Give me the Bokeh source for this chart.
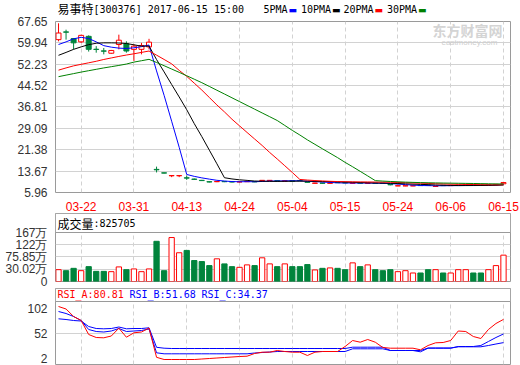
from bokeh.plotting import figure
from bokeh.layouts import column
from bokeh.models import (Range1d, FixedTicker, Label, BoxAnnotation,
                          PrintfTickFormatter, ColumnDataSource)
from bokeh.embed import file_html
from bokeh.resources import INLINE

# ---------------- data ----------------
stock_name = "易事特"
stock_code = "300376"
time_stamp = "2017-06-15 15:00"

dates = ["03-17", "03-20", "03-21", "03-22", "03-23", "03-24", "03-27", "03-28", "03-29", "03-30",
         "03-31", "04-05", "04-06", "04-07", "04-10", "04-11", "04-12", "04-13", "04-14", "04-17",
         "04-18", "04-19", "04-20", "04-21", "04-24", "04-25", "04-26", "04-27", "04-28", "05-02",
         "05-03", "05-04", "05-05", "05-08", "05-09", "05-10", "05-11", "05-12", "05-15", "05-16",
         "05-17", "05-18", "05-19", "05-22", "05-23", "05-24", "05-25", "05-26", "05-31", "06-01",
         "06-02", "06-05", "06-06", "06-07", "06-08", "06-09", "06-12", "06-13", "06-14", "06-15"]

opens = [61.10, 63.90, 61.50, 60.30, 62.30, 57.65, 57.05, 56.20, 59.35, 59.60,
         57.60, 57.60, 58.50, 14.30, 13.05, 12.00, 12.00, 11.25, 10.80, 10.35,
         9.85, 9.85, 9.95, 9.85, 9.75, 9.85, 9.90, 10.20, 10.20, 10.20,
         10.05, 10.15, 10.30, 9.75, 9.28, 9.38, 9.28, 9.60, 9.50, 9.30,
         9.38, 9.28, 9.35, 9.30, 8.85, 8.33, 8.33, 8.33, 8.55, 8.55,
         8.12, 8.55, 8.45, 8.50, 8.60, 8.65, 8.55, 8.60, 8.80, 9.10]
highs = [67.00, 64.70, 61.60, 62.90, 62.65, 58.75, 58.10, 57.40, 62.90, 60.50,
         59.35, 59.95, 61.40, 15.30, 13.10, 12.10, 12.10, 12.05, 11.00, 10.50,
         9.95, 10.00, 10.05, 9.90, 9.90, 10.00, 9.95, 10.45, 10.45, 10.25,
         10.25, 10.20, 10.50, 9.80, 9.45, 9.45, 9.40, 9.65, 9.55, 9.45,
         9.45, 9.40, 9.40, 9.35, 8.90, 8.45, 8.45, 8.45, 8.60, 8.60,
         8.25, 8.60, 8.60, 8.65, 8.75, 8.70, 8.60, 8.75, 8.95, 9.70]
lows = [60.50, 61.10, 57.60, 59.90, 56.80, 56.40, 55.80, 56.00, 57.60, 56.40,
        53.40, 55.80, 57.60, 13.20, 12.85, 11.50, 11.50, 10.50, 10.50, 10.10,
        9.60, 9.70, 9.70, 9.60, 9.65, 9.75, 9.70, 10.15, 10.15, 10.00,
        10.00, 9.95, 10.10, 9.60, 9.20, 9.25, 9.20, 9.45, 9.35, 9.25,
        9.25, 9.20, 9.20, 9.15, 8.55, 8.25, 8.25, 8.25, 8.40, 8.40,
        8.05, 8.40, 8.40, 8.45, 8.55, 8.50, 8.40, 8.55, 8.75, 9.05]
closes = [63.50, 63.80, 59.95, 62.65, 57.60, 57.55, 56.95, 57.20, 60.90, 57.00,
          58.75, 59.00, 60.20, 14.15, 12.95, 12.06, 12.06, 11.15, 10.70, 10.25,
          9.75, 9.95, 9.85, 9.75, 9.85, 9.95, 9.80, 10.35, 10.35, 10.10,
          10.15, 10.05, 10.20, 9.65, 9.38, 9.30, 9.35, 9.50, 9.42, 9.38,
          9.30, 9.34, 9.28, 9.22, 8.73, 8.40, 8.40, 8.40, 8.45, 8.48,
          8.20, 8.45, 8.52, 8.58, 8.68, 8.58, 8.48, 8.68, 8.90, 9.55]

ma5 = [59.35, 60.30, 61.40, 61.95, 61.50, 60.30, 58.94, 58.39, 58.04, 57.92,
       58.16, 58.57, 59.17, 49.82, 41.01, 31.67, 22.28, 12.47, 11.78, 11.24,
       10.78, 10.36, 10.10, 9.91, 9.83, 9.87, 9.84, 9.94, 10.06, 10.11,
       10.15, 10.20, 10.17, 10.03, 9.89, 9.72, 9.58, 9.44, 9.39, 9.39,
       9.39, 9.39, 9.34, 9.30, 9.17, 8.99, 8.81, 8.63, 8.48, 8.43,
       8.39, 8.40, 8.42, 8.45, 8.49, 8.56, 8.57, 8.60, 8.66, 8.84]
ma10 = [55.45, 56.50, 57.60, 58.50, 59.30, 59.80, 59.95, 59.95, 59.90, 59.71,
        59.24, 58.76, 58.78, 53.93, 49.47, 44.92, 40.43, 35.82, 30.80, 26.13,
        21.23, 16.32, 11.29, 10.85, 10.54, 10.33, 10.10, 10.02, 9.99, 9.97,
        10.01, 10.02, 10.06, 10.05, 10.00, 9.93, 9.89, 9.80, 9.71, 9.64,
        9.55, 9.48, 9.39, 9.35, 9.28, 9.19, 9.10, 8.99, 8.89, 8.80,
        8.69, 8.60, 8.53, 8.46, 8.46, 8.47, 8.48, 8.51, 8.56, 8.66]
ma20 = [50.10, 50.90, 51.65, 52.20, 52.75, 53.30, 53.95, 54.50, 55.05, 55.55,
        56.00, 56.50, 57.00, 55.51, 53.96, 52.37, 50.02, 47.86, 45.40, 42.92,
        40.23, 37.54, 35.04, 32.39, 30.00, 27.62, 25.27, 22.92, 20.40, 18.05,
        15.62, 13.17, 10.67, 10.45, 10.27, 10.13, 10.00, 9.91, 9.85, 9.81,
        9.79, 9.76, 9.73, 9.70, 9.65, 9.57, 9.50, 9.40, 9.31, 9.23,
        9.13, 9.05, 8.97, 8.91, 8.88, 8.84, 8.80, 8.76, 8.73, 8.74]
ma30 = [47.75, 48.30, 48.85, 49.40, 49.90, 50.40, 50.90, 51.35, 51.80, 52.30,
        53.00, 53.50, 54.00, 52.87, 51.70, 50.50, 49.31, 48.08, 46.83, 45.58,
        44.22, 42.85, 41.49, 40.12, 38.76, 37.39, 36.03, 34.66, 33.30, 31.93,
        30.15, 28.36, 26.70, 24.94, 23.33, 21.72, 20.13, 18.54, 16.83, 15.24,
        13.59, 11.94, 10.24, 10.08, 9.94, 9.82, 9.70, 9.61, 9.53, 9.47,
        9.42, 9.37, 9.33, 9.29, 9.25, 9.21, 9.16, 9.11, 9.06, 9.04]

# volume in 万 (10k shares)
volume_wan = [28.5, 24.7, 33.4, 24.7, 39.8, 22.1, 22.1, 21.0, 38.7, 28.5,
              31.2, 21.0, 31.2, 134.2, 24.7, 148.2, 91.5, 100.2, 62.5, 58.7,
              43.6, 68.9, 50.0, 39.8, 37.2, 46.3, 43.6, 72.7, 50.0, 39.8,
              50.0, 39.8, 39.8, 47.4, 27.4, 33.4, 35.0, 33.4, 28.5, 53.8,
              39.8, 46.3, 28.5, 24.7, 28.5, 21.0, 24.7, 16.1, 16.1, 28.5,
              28.5, 16.1, 16.1, 28.5, 28.5, 16.1, 16.1, 28.5, 43.6, 82.5705]

rsi_a = [106.6, 101.6, 86.6, 78.6, 50.6, 44.6, 44.0, 47.6, 63.2, 45.2,
         54.0, 55.6, 63.6, 5.0, 0.6, 0.6, 0.6, 0.6, 0.6, 1.6,
         2.6, 3.6, 4.6, 5.6, 6.6, 7.2, 12.6, 15.2, 15.2, 18.6,
         16.6, 15.2, 15.2, 8.6, 15.2, 16.6, 16.6, 16.6, 26.6, 38.6,
         35.2, 40.6, 35.2, 24.6, 23.2, 23.2, 23.2, 23.2, 20.0, 28.6,
         34.0, 34.6, 38.6, 57.6, 56.6, 46.6, 42.6, 60.6, 72.6, 80.81]
rsi_b = [96.6, 92.6, 86.6, 78.6, 60.6, 56.6, 55.6, 57.6, 62.6, 56.6,
         57.6, 58.6, 61.6, 14.0, 12.0, 12.0, 12.0, 12.0, 12.0, 12.0,
         12.0, 12.0, 12.0, 12.0, 12.0, 12.0, 13.6, 14.6, 15.6, 16.6,
         16.6, 16.6, 16.6, 16.6, 16.6, 16.6, 16.6, 16.6, 16.6, 22.0,
         22.0, 22.0, 22.0, 22.0, 18.6, 18.6, 18.6, 18.6, 16.0, 23.2,
         23.2, 23.2, 23.2, 26.6, 26.6, 26.6, 28.6, 36.6, 44.6, 51.68]
rsi_c = [82.0, 80.6, 78.6, 77.6, 66.6, 62.6, 62.0, 62.6, 65.6, 62.0,
         62.6, 62.6, 64.0, 25.0, 23.2, 22.6, 22.6, 22.6, 22.6, 22.6,
         22.6, 22.6, 22.6, 22.6, 22.6, 22.6, 22.6, 22.6, 22.6, 22.6,
         22.6, 22.6, 22.6, 22.6, 22.6, 22.6, 22.6, 22.6, 22.6, 25.2,
         25.2, 25.2, 25.2, 25.2, 18.6, 18.6, 18.6, 18.6, 18.6, 23.6,
         23.6, 23.6, 23.6, 26.0, 26.0, 26.0, 26.0, 28.6, 31.6, 34.37]

price_tick_labels = ["5.96", "13.67", "21.38", "29.09", "36.81", "44.52", "52.23", "59.94", "67.65"]
date_tick_labels = ["03-22", "03-31", "04-13", "04-24", "05-04", "05-15", "05-24", "06-06", "06-15"]
vol_tick_labels = ["0", "30.02万", "75.85万", "122万", "167万"]
rsi_tick_labels = ["2", "52", "102"]
ma_names = ["5PMA", "10PMA", "20PMA", "30PMA"]
rsi_names = ["RSI_A", "RSI_B", "RSI_C"]

# ---------------- styles ----------------
RED = "#FF0000"
GREEN = "#00843C"
BLUE = "#0000FF"
MA_COLORS = [BLUE, "#000000", RED, "#008000"]
RSI_COLORS = [RED, BLUE, BLUE]
FRAME_C = "#9a9a9a"
GRID_C = "#d2d2d2"
AX_FONT = "Liberation Sans"
MONO = "DejaVu Sans Mono"
CJK = "Noto Sans CJK SC"

n = len(dates)
xs = list(range(n))
X0, X1 = -0.4, (n - 1) + 0.93
P_LO, P_HI = float(price_tick_labels[0]), float(price_tick_labels[-1])
date_ticks = [dates.index(d) for d in date_tick_labels]

up = [c >= o for o, c in zip(opens, closes)]
src = ColumnDataSource(dict(
    x=xs, high=highs, low=lows,
    top=[max(o, c) for o, c in zip(opens, closes)],
    bot=[min(o, c) for o, c in zip(opens, closes)],
    col=[RED if u else GREEN for u in up],
    fill=["white" if u else GREEN for u in up],
    vol=volume_wan,
))


def fx(px):
    return X0 + (px - 55) * (X1 - X0) / 455.0


def style(p):
    p.outline_line_color = FRAME_C
    p.outline_line_width = 1
    p.background_fill_color = "white"
    p.border_fill_color = "white"
    for ax in p.axis:
        ax.axis_line_color = None
        ax.major_tick_line_color = None
        ax.minor_tick_line_color = None
        ax.major_label_text_font = AX_FONT
        ax.major_label_text_font_size = "12px"
        ax.major_label_text_color = "#333333"
        ax.major_label_standoff = 2
    p.xgrid.ticker = FixedTicker(ticks=date_ticks)
    p.xgrid.grid_line_color = GRID_C
    p.xgrid.grid_line_dash = "4 3"
    p.ygrid.grid_line_color = GRID_C


def add_label(p, text, x, y, font, size, color, bold=False):
    p.add_layout(Label(x=x, y=y, text=text, text_font=font, text_font_size=size,
                       text_color=color, text_baseline="middle", text_align="left",
                       text_font_style="bold" if bold else "normal"))


# ---------------- header row ----------------
p0 = figure(width=520, height=16, x_range=Range1d(X0, X1), y_range=Range1d(16, 0),
            x_axis_location=None, y_axis_location=None,
            output_backend="svg", toolbar_location=None,
            min_border_left=55, min_border_right=10, min_border_top=0, min_border_bottom=0)
p0.outline_line_color = None
p0.grid.visible = False
p0.background_fill_color = "white"
p0.border_fill_color = "white"
hy = 8.3
add_label(p0, stock_name, fx(57), hy, CJK, "12px", "#000000")
add_label(p0, "[%s] %s" % (stock_code, time_stamp), fx(93), hy + 0.7, MONO, "10px", "#000000")
for name, c, x0 in zip(ma_names, MA_COLORS, [263, 300.5, 343, 386.5]):
    add_label(p0, name, fx(x0), hy + 0.7, MONO, "10px", "#000000")
    add_label(p0, "▬", fx(x0 + 6 * len(name) + 1), hy + 0.7, "DejaVu Sans", "9px", c)

# ---------------- price panel ----------------
p1 = figure(width=520, height=197, x_range=p0.x_range, y_range=Range1d(P_LO, P_HI),
            output_backend="svg", toolbar_location=None,
            min_border_left=55, min_border_right=10, min_border_top=5, min_border_bottom=18)
style(p1)
p1.yaxis.ticker = FixedTicker(ticks=[float(s) for s in price_tick_labels])
p1.yaxis.formatter = PrintfTickFormatter(format="%.2f")
p1.ygrid.ticker = FixedTicker(ticks=[float(s) for s in price_tick_labels])
p1.xaxis.ticker = FixedTicker(ticks=date_ticks)
p1.xaxis.major_label_overrides = {t: d for t, d in zip(date_ticks, date_tick_labels)}
p1.xaxis.major_label_text_color = RED
p1.xaxis.major_label_standoff = 3

p1.segment(x0="x", y0="low", x1="x", y1="high", color="col", line_width=1, source=src)
p1.vbar(x="x", width=0.66, top="top", bottom="bot", fill_color="fill", line_color="col",
        line_width=1, source=src)
for ma, c in zip([ma5, ma10, ma20, ma30], MA_COLORS):
    p1.line(xs, ma, color=c, line_width=1)

py_per = (P_HI - P_LO) / 174.0
# watermark
add_label(p1, "东方财富网", fx(432), P_HI - (30 - 21) * py_per, CJK, "14px", "#d4d4d4", bold=True)
add_label(p1, "eastmoney.com", fx(441), P_HI - (42 - 21) * py_per, AX_FONT, "8px", "#cfcfcf")

# ---------------- volume panel ----------------
vt = [float(s.replace("万", "")) for s in vol_tick_labels[1:]]
vstep = (vt[-1] - vt[0]) / (len(vt) - 1)
v_bot = vt[0] - vstep
v_per = (vt[-1] - v_bot) / 49.0
v_top = vt[-1] + 19 * v_per
vol_ticks = [v_bot] + vt

p2 = figure(width=520, height=75, x_range=p0.x_range, y_range=Range1d(v_bot, v_top),
            x_axis_location=None, output_backend="svg", toolbar_location=None,
            min_border_left=55, min_border_right=10, min_border_top=0, min_border_bottom=7)
style(p2)
p2.yaxis.ticker = FixedTicker(ticks=vol_ticks)
p2.yaxis.major_label_overrides = {t: s for t, s in zip(vol_ticks, vol_tick_labels)}
p2.ygrid.ticker = FixedTicker(ticks=vt[:-1])
p2.vbar(x="x", width=0.7, top="vol", bottom=v_bot, fill_color="fill", line_color="col",
        line_width=1, source=src)
p2.add_layout(BoxAnnotation(left=X0, right=X1, bottom=vt[-1], top=v_top,
                            fill_color="white", fill_alpha=1.0,
                            line_color=FRAME_C, line_width=1, line_alpha=1.0))
vy = vt[-1] + (232 - 223) * v_per
add_label(p2, "成交量", fx(57), vy, CJK, "12px", "#000000")
add_label(p2, ":%d" % round(volume_wan[-1] * 10000), fx(93), vy, MONO, "10px", "#000000")

# ---------------- RSI panel ----------------
r_ticks = [float(s) for s in rsi_tick_labels]
r_per = 2.0  # units per pixel
r_hi_plot = r_ticks[1] + 32.3 * r_per
r_lo = r_ticks[1] - 30.7 * r_per
r_top = r_hi_plot + 13 * r_per

p3 = figure(width=520, height=77, x_range=p0.x_range, y_range=Range1d(r_lo, r_top),
            x_axis_location=None, output_backend="svg", toolbar_location=None,
            min_border_left=55, min_border_right=10, min_border_top=0, min_border_bottom=1)
style(p3)
p3.yaxis.ticker = FixedTicker(ticks=r_ticks)
p3.ygrid.ticker = FixedTicker(ticks=[r_ticks[1]])
for series, c in zip([rsi_c, rsi_b, rsi_a], [RSI_COLORS[2], RSI_COLORS[1], RSI_COLORS[0]]):
    p3.line(xs, series, color=c, line_width=1)
p3.add_layout(BoxAnnotation(left=X0, right=X1, bottom=r_hi_plot, top=r_top,
                            fill_color="white", fill_alpha=1.0,
                            line_color=FRAME_C, line_width=1, line_alpha=1.0))
ry = r_top - 6.0 * r_per
for name, series, c, x0 in zip(rsi_names, [rsi_a, rsi_b, rsi_c], RSI_COLORS, [57, 129, 201]):
    add_label(p3, "%s:%.2f" % (name, series[-1]), fx(x0), ry, MONO, "10px", c)

layout = column(p0, p1, p2, p3, spacing=0)
open("out.html", "w").write(file_html(layout, INLINE))
